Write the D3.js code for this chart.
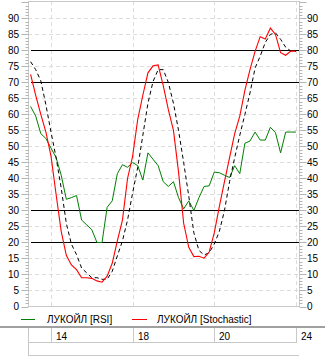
<!DOCTYPE html>
<html><head><meta charset="utf-8">
<script src="https://cdn.jsdelivr.net/npm/d3@7"></script>
<style>
html,body{margin:0;padding:0;background:#fff;}
svg{display:block;font-family:"Liberation Sans",Arial,sans-serif;}
</style></head>
<body><svg id="c" width="325" height="357"></svg>
<script>
const rsi = [62.5,59.5,54,52.5,49.5,46.5,41,33.5,34,34.7,27,25.5,24,20,20,31,33,41.5,44.3,43.5,45,44,39.5,48,46,44,39,37.5,39,34,30.5,33,30,34,37.5,37.7,42,41.8,41,40.3,44,41.5,51,51.7,54.5,52,52,56,54.3,48,54.5,54.5,54.5];
const stoch = [72.5,66,60,54.5,47,35,23.5,16,13,11.5,9,9,8.8,8,7.6,9.5,13.5,20.5,27,40,47,58.5,66,73,75.2,75.5,69,61.5,55,42,26,18.5,15.6,15.7,15.1,17,23,31.3,39,46.5,54,59.5,67.5,74,79.7,84.3,83.6,87,85,79.3,78.5,79.8,79.8];
const signal = [76.5,74,70.5,63,54.5,46.5,37,26,19.5,16.2,12,10.5,9,9,8.5,8.5,11,15.8,20.5,27,35.5,43.5,53.5,63.5,70.3,74,74,70,63.5,55,45,34.5,23,17.5,16.1,16.8,19.5,23.5,30,39,46.5,53.5,60,66.7,74.5,78.2,82.5,85,85.5,83.5,81,79.8,79.7];
const xTickIndex = [4,20,36,52];
const xTickLabels = ["14","18","20","24"];
const levels = [20,30,70,80];
const seriesNames = ["ЛУКОЙЛ [RSI]","ЛУКОЙЛ [Stochastic]"];
const seriesColors = ["#008000","#ff0000"];

const svg = d3.select("#c");
const L = 28, R = 299, T = 1, B = 306.5;
const x = d3.scaleLinear().domain([0, rsi.length-1]).range([30.6, 295.9]);
const y = d3.scaleLinear().domain([0, 95.45]).range([B, T]);

// horizontal grid
const gridVals = d3.range(5, 95, 5).filter(v => !levels.includes(v));
svg.append("g").selectAll("line").data(gridVals).join("line")
  .attr("x1", L).attr("x2", R)
  .attr("y1", d => Math.round(y(d))+0.5).attr("y2", d => Math.round(y(d))+0.5)
  .attr("stroke", "#dcdcdc").attr("stroke-dasharray", "4,3");
// vertical grid
svg.append("g").selectAll("line").data(xTickIndex).join("line")
  .attr("x1", d => Math.round(x(d))+0.5).attr("x2", d => Math.round(x(d))+0.5)
  .attr("y1", T).attr("y2", B)
  .attr("stroke", "#dcdcdc").attr("stroke-dasharray", "4,3");

// border
svg.append("rect").attr("x", L+0.5).attr("y", T+0.5).attr("width", R-L).attr("height", B-T-0.5)
  .attr("fill", "none").attr("stroke", "#c8c8c8");

// level lines
svg.append("g").selectAll("line").data(levels).join("line")
  .attr("x1", 31).attr("x2", R)
  .attr("y1", d => Math.round(y(d))+0.5).attr("y2", d => Math.round(y(d))+0.5)
  .attr("stroke", "#000");

// axes
const ticks = d3.range(0, 96, 1);
function axis(side){
  const g = svg.append("g");
  const x0 = side === "left" ? L+0.5 : R+0.5;
  const dir = side === "left" ? -1 : 1;
  g.selectAll("line").data(ticks).join("line")
    .attr("x1", x0).attr("x2", d => x0 + dir*(d%5===0 ? 7 : 3))
    .attr("y1", d => Math.round(y(d))+0.5).attr("y2", d => Math.round(y(d))+0.5)
    .attr("stroke", "#b4b4b4");
  g.selectAll("text").data(d3.range(0, 95, 5)).join("text")
    .attr("x", side === "left" ? 19 : 307)
    .attr("y", d => y(d)+3.5)
    .attr("text-anchor", side === "left" ? "end" : "start")
    .attr("font-size", 10).attr("fill", "#000")
    .text(d => d);
}
axis("left"); axis("right");

// series
const line = d3.line().x((d,i) => x(i)).y(d => y(d));
svg.append("path").datum(rsi).attr("d", line).attr("fill","none").attr("stroke", seriesColors[0]).attr("stroke-width", 1);
svg.append("path").datum(signal).attr("d", line).attr("fill","none").attr("stroke", "#000").attr("stroke-width", 1).attr("stroke-dasharray", "4,3");
svg.append("path").datum(stoch).attr("d", line).attr("fill","none").attr("stroke", seriesColors[1]).attr("stroke-width", 1.1);

// legend
const lg = [{x1:21,x2:35,tx:47},{x1:132,x2:147,tx:157}];
lg.forEach((p,i) => {
  svg.append("line").attr("x1", p.x1).attr("x2", p.x2).attr("y1", 319.5).attr("y2", 319.5)
    .attr("stroke", seriesColors[i]).attr("stroke-width", 1);
  svg.append("text").attr("x", p.tx).attr("y", 323).attr("font-size", 10).text(seriesNames[i]);
});

// separator and date table
svg.append("line").attr("x1", 0).attr("x2", 325).attr("y1", 327).attr("y2", 327).attr("stroke", "#a0a0a0").attr("stroke-width", 2);
svg.append("line").attr("x1", L).attr("x2", 297).attr("y1", 342.5).attr("y2", 342.5).attr("stroke", "#c8c8c8");
svg.append("line").attr("x1", L).attr("x2", 299).attr("y1", 355.5).attr("y2", 355.5).attr("stroke", "#c8c8c8");
svg.append("line").attr("x1", L+0.5).attr("x2", L+0.5).attr("y1", 328).attr("y2", 356).attr("stroke", "#c8c8c8");
svg.append("g").selectAll("line").data(xTickIndex).join("line")
  .attr("x1", d => Math.round(x(d))+0.5).attr("x2", d => Math.round(x(d))+0.5)
  .attr("y1", 328).attr("y2", 342).attr("stroke", "#c8c8c8");
svg.append("g").selectAll("text").data(xTickIndex).join("text")
  .attr("x", d => Math.round(x(d))+5).attr("y", 339.5)
  .attr("font-size", 10).text((d,i) => xTickLabels[i]);
</script></body></html>
